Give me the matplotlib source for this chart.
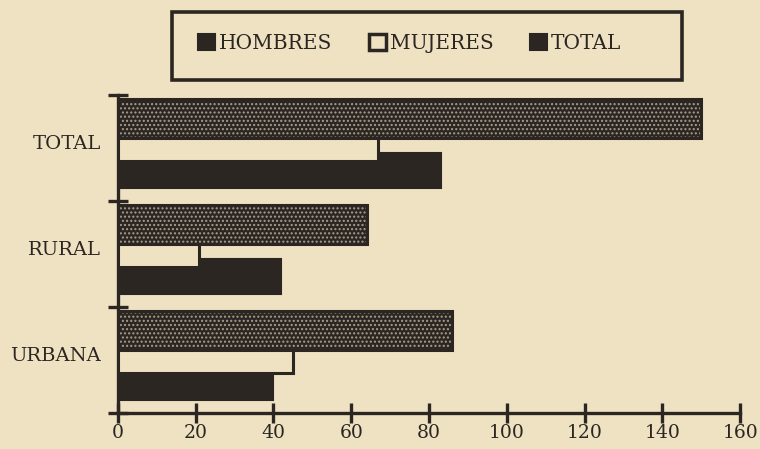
import matplotlib
matplotlib.use('Agg')
import matplotlib.pyplot as plt
from matplotlib.patches import Patch, Rectangle
import numpy as np

# Data
categories = ['URBANA', 'RURAL', 'TOTAL']
hombres = [40, 42, 83]
mujeres = [45, 21, 67]
total = [86, 64, 150]
x_ticks = [0, 20, 40, 60, 80, 100, 120, 140, 160]

BG = '#EEE2C2'
DARK = '#2B2622'
DOTS = '#A89E8A'

plt.rcParams['font.family'] = ['DejaVu Serif']

fig = plt.figure(figsize=(7.6, 4.49), dpi=100)
fig.patch.set_facecolor(BG)
ax = fig.add_axes([0.155, 0.080, 0.819, 0.708])
ax.set_facecolor(BG)

y = np.arange(len(categories))

# hombres at the back, mujeres over it, total on top
ax.barh(y - 0.215, hombres, height=0.33, color=DARK, edgecolor=DARK, linewidth=1.5, zorder=2)
ax.barh(y + 0.01, mujeres, height=0.27, color=BG, edgecolor=DARK, linewidth=2.2, zorder=3)
ax.barh(y + 0.28, total, height=0.36, color=DARK, edgecolor=DOTS, linewidth=0, hatch='....', zorder=4)
ax.barh(y + 0.28, total, height=0.36, fill=False, edgecolor=DARK, linewidth=2.2, zorder=4)

ax.set_xlim(0, 160)
ax.set_ylim(-0.5, 2.5)
ax.set_xticks(x_ticks)
ax.set_xticklabels([str(v) for v in x_ticks], fontsize=13.5, color=DARK)
ax.set_yticks([-0.5, 0.5, 1.5, 2.5])
ax.set_yticklabels([])
ax.set_yticks(y + 0.06, minor=True)
ax.set_yticklabels(categories, minor=True, fontsize=14, color=DARK)
ax.tick_params(axis='y', which='minor', length=0, pad=12)
ax.tick_params(axis='both', which='major', direction='inout', length=14, width=2.4, color=DARK)
ax.tick_params(axis='x', pad=1)

for s in ['top', 'right']:
    ax.spines[s].set_visible(False)
for s in ['left', 'bottom']:
    ax.spines[s].set_linewidth(2.4)
    ax.spines[s].set_color(DARK)

# legend with its big box
handles = [
    Patch(facecolor=DARK, edgecolor=DARK, linewidth=1.5, label='HOMBRES'),
    Patch(facecolor=BG, edgecolor=DARK, linewidth=2.5, label='MUJERES'),
    Patch(facecolor=DARK, edgecolor=DARK, linewidth=1.5, label='TOTAL'),
]
fig.legend(handles=handles, loc='center', bbox_to_anchor=(0.539, 0.904), ncol=3,
           frameon=False, fontsize=14.5, handlelength=0.85, handleheight=0.85,
           handletextpad=0.2, columnspacing=1.8, labelcolor=DARK)
fig.patches.append(Rectangle((0.226, 0.822), 0.671, 0.151, transform=fig.transFigure,
                             fill=False, edgecolor=DARK, linewidth=2.6))

fig.savefig('out.png', dpi=100, facecolor=BG)
